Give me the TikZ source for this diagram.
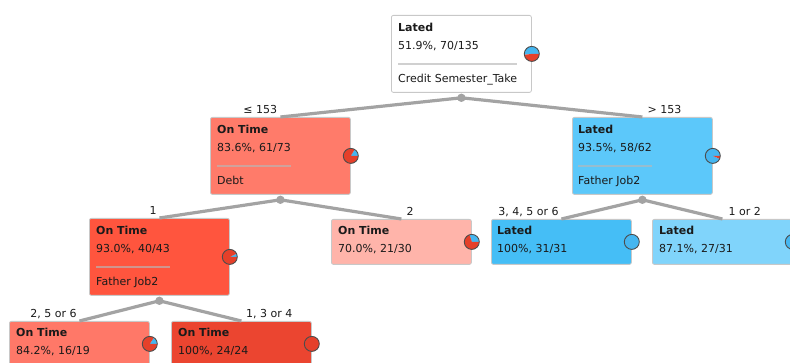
\documentclass[tikz,border=0pt]{standalone}
\usepackage{fontspec}
\setmainfont{DejaVu Sans}
\usetikzlibrary{calc}
\definecolor{edgegray}{HTML}{A3A3A3}
\definecolor{txtcol}{HTML}{1A1A1A}
\definecolor{boxline}{HTML}{C8C8C8}
\definecolor{cA}{HTML}{FF7B6A}
\definecolor{cB}{HTML}{5CC8FA}
\definecolor{cC}{HTML}{FF553E}
\definecolor{cD}{HTML}{FFB4AA}
\definecolor{cE}{HTML}{45BEF6}
\definecolor{cF}{HTML}{80D4FB}
\definecolor{cG}{HTML}{FF7868}
\definecolor{cH}{HTML}{EB4530}
\definecolor{pieblue}{HTML}{45B6F0}
\definecolor{piered}{HTML}{E5402A}
\newcommand{\mypie}[2]{%
  \fill[pieblue] (#1.east) -- ++(7.5,0) arc[start angle=0, end angle=#2, radius=7.5] -- cycle;
  \fill[piered] (#1.east) -- ++(#2:7.5) arc[start angle=#2, end angle=360, radius=7.5] -- cycle;
  \draw[pieline] (#1.east) circle[radius=7.5];}
\newcommand{\mypiefull}[2]{%
  \fill[#2] (#1.east) circle[radius=7.5];
  \draw[pieline] (#1.east) circle[radius=7.5];}
\newcommand{\mysep}[2]{%
  \draw[sepline] let \p1=(#1.base west), \p2=(#1.base east), \p3=(#2.base east) in
    (\x1, \y1-14pt) -- ({max(\x2,\x3)}, \y1-14pt);}
\begin{document}
\begin{tikzpicture}[x=1pt, y=1pt,
  every node/.append style={font=\fontsize{11}{13}\selectfont, text=txtcol},
  tbox/.style={draw=boxline, line width=0.8pt, rounded corners=2pt, minimum width=140pt,
    inner sep=0pt, anchor=north west},
  tall/.style={minimum height=77pt},
  short/.style={minimum height=45pt},
  ttl/.style={anchor=base west, inner sep=0pt, font=\fontsize{11}{13}\selectfont\bfseries},
  txt/.style={anchor=base west, inner sep=0pt},
  sepline/.style={draw=black!28, opacity=0.65, line width=1.3pt},
  edgeline/.style={draw=edgegray, line width=3.2pt},
  jdot/.style={fill=edgegray},
  pieline/.style={draw=black!70, line width=0.9pt},
  lblL/.style={anchor=base east, inner sep=0pt},
  lblR/.style={anchor=base west, inner sep=0pt}]
\useasboundingbox (0,0) rectangle (790,363);
\clip (0,0) rectangle (790,363);

% boxes
\node[tbox, tall, fill=white] (r) at (391,348) {};
\node[tbox, tall, fill=cA] (A) at (210,246) {};
\node[tbox, tall, fill=cB] (B) at (572,246) {};
\node[tbox, tall, fill=cC] (C) at (89,145) {};
\node[tbox, short, fill=cD] (D) at (331,144) {};
\node[tbox, short, fill=cE] (E) at (491,144) {};
\node[tbox, short, fill=cF] (F) at (652,144) {};
\node[tbox, short, fill=cG] (G) at (9,42) {};
\node[tbox, short, fill=cH] (H) at (171,42) {};

% junctions
\coordinate (rj) at ($(r.south)+(0,-5)$);
\coordinate (Aj) at ($(A.south)+(0,-5)$);
\coordinate (Bj) at ($(B.south)+(0,-5)$);
\coordinate (Cj) at ($(C.south)+(0,-5)$);

% edges
\draw[edgeline] (rj) -- (A.north);
\draw[edgeline] (rj) -- (B.north);
\draw[edgeline] (Aj) -- (C.north);
\draw[edgeline] (Aj) -- (D.north);
\draw[edgeline] (Bj) -- (E.north);
\draw[edgeline] (Bj) -- (F.north);
\draw[edgeline] (Cj) -- (G.north);
\draw[edgeline] (Cj) -- (H.north);
\fill[jdot] (rj) circle[radius=4.2];
\fill[jdot] (Aj) circle[radius=4.2];
\fill[jdot] (Bj) circle[radius=4.2];
\fill[jdot] (Cj) circle[radius=4.2];

% edge labels
\node[lblL] (lA) at ($(A.north)+(-3,3)$) {≤ 153};
\node[lblR] (lB) at ($(B.north)+(5,3)$) {> 153};
\node[lblL] (lC) at ($(C.north)+(-2.5,3)$) {1};
\node[lblR] (lD) at ($(D.north)+(5,3)$) {2};
\node[lblL] (lE) at ($(E.north)+(-2.5,3)$) {3, 4, 5 or 6};
\node[lblR] (lF) at ($(F.north)+(6,3)$) {1 or 2};
\node[lblL] (lG) at ($(G.north)+(-2.5,3)$) {2, 5 or 6};
\node[lblR] (lH) at ($(H.north)+(4.5,3)$) {1, 3 or 4};

% texts
\node[ttl] (r1) at ($(r.north west)+(7,-17)$) {Lated};
\node[txt] (r2) at ($(r.north west)+(7,-35)$) {51.9\%, 70/135};
\node[txt] (r3) at ($(r.north west)+(7,-68)$) {Credit Semester\_Take};
\mysep{r2}{r3}

\node[ttl] (A1) at ($(A.north west)+(7,-17)$) {On Time};
\node[txt] (A2) at ($(A.north west)+(7,-35)$) {83.6\%, 61/73};
\node[txt] (A3) at ($(A.north west)+(7,-68)$) {Debt};
\mysep{A2}{A3}

\node[ttl] (B1) at ($(B.north west)+(6,-17)$) {Lated};
\node[txt] (B2) at ($(B.north west)+(6,-35)$) {93.5\%, 58/62};
\node[txt] (B3) at ($(B.north west)+(6,-68)$) {Father Job2};
\mysep{B2}{B3}

\node[ttl] (C1) at ($(C.north west)+(7,-17)$) {On Time};
\node[txt] (C2) at ($(C.north west)+(7,-35)$) {93.0\%, 40/43};
\node[txt] (C3) at ($(C.north west)+(7,-68)$) {Father Job2};
\mysep{C2}{C3}

\node[ttl] (D1) at ($(D.north west)+(7,-16)$) {On Time};
\node[txt] (D2) at ($(D.north west)+(7,-34)$) {70.0\%, 21/30};

\node[ttl] (E1) at ($(E.north west)+(6,-16)$) {Lated};
\node[txt] (E2) at ($(E.north west)+(6,-34)$) {100\%, 31/31};

\node[ttl] (F1) at ($(F.north west)+(7,-16)$) {Lated};
\node[txt] (F2) at ($(F.north west)+(7,-34)$) {87.1\%, 27/31};

\node[ttl] (G1) at ($(G.north west)+(7,-16)$) {On Time};
\node[txt] (G2) at ($(G.north west)+(7,-34)$) {84.2\%, 16/19};

\node[ttl] (H1) at ($(H.north west)+(7,-16)$) {On Time};
\node[txt] (H2) at ($(H.north west)+(7,-34)$) {100\%, 24/24};

% pies
\mypie{r}{186.8}
\mypie{A}{59.2}
\mypie{B}{336.8}
\mypie{C}{25.1}
\mypie{D}{108}
\mypiefull{E}{pieblue}
\mypie{F}{313.5}
\mypie{G}{56.8}
\mypiefull{H}{piered}
\end{tikzpicture}
\end{document}
